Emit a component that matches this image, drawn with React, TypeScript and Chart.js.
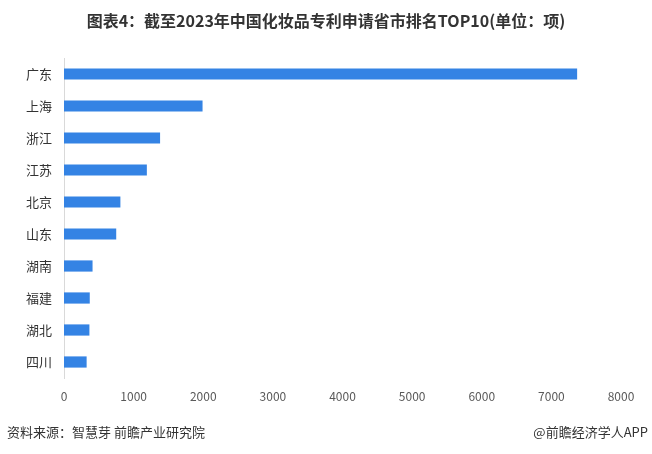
import React, { useEffect, useRef } from "react";
import { Chart, registerables } from "chart.js";

Chart.register(...registerables);

const categories = ["广东", "上海", "浙江", "江苏", "北京", "山东", "湖南", "福建", "湖北", "四川"];
const patentCounts = [7370, 1990, 1380, 1190, 810, 750, 410, 370, 365, 325];
const xTicks = [0, 1000, 2000, 3000, 4000, 5000, 6000, 7000, 8000];
const titleText = "图表4：截至2023年中国化妆品专利申请省市排名TOP10(单位：项)";
const sourceText = "资料来源：智慧芽 前瞻产业研究院";
const creditText = "@前瞻经济学人APP";

const FONT = "'Noto Sans CJK SC', 'Noto Sans', sans-serif";

export default function App() {
  const ref = useRef<HTMLCanvasElement | null>(null);

  useEffect(() => {
    if (!ref.current) return;
    const chart = new Chart(ref.current, {
      type: "bar",
      data: {
        labels: categories,
        datasets: [
          {
            data: patentCounts,
            backgroundColor: "#3483E4",
            borderWidth: 0,
            barPercentage: 0.7,
            categoryPercentage: 0.5,
          },
        ],
      },
      options: {
        indexAxis: "y",
        animation: false,
        responsive: false,
        maintainAspectRatio: false,
        layout: { padding: { left: 0, right: 31, top: 58, bottom: 40 } },
        plugins: {
          legend: { display: false },
          tooltip: { enabled: false },
          title: { display: false },
        },
        scales: {
          x: {
            min: 0,
            max: 8000,
            afterBuildTicks: (axis: any) => {
              axis.ticks = xTicks.map((v) => ({ value: v }));
            },
            afterFit: (axis: any) => {
              axis.height = 36;
            },
            grid: { display: false, drawTicks: false },
            border: { display: false },
            ticks: {
              color: "#595959",
              font: { family: FONT, size: 12 },
              padding: 11,
              maxRotation: 0,
              autoSkip: false,
              callback: (v: any) => String(v),
            },
          },
          y: {
            afterFit: (axis: any) => {
              axis.width = 64;
            },
            grid: { display: false, drawTicks: false },
            border: { display: true, color: "#d9d9d9", width: 1 },
            ticks: {
              color: "#333333",
              font: { family: FONT, size: 13 },
              padding: 12,
            },
          },
        },
      },
    });
    return () => chart.destroy();
  }, []);

  return (
    <div
      style={{
        position: "fixed",
        left: 0,
        top: 0,
        width: 652,
        height: 454,
        background: "#ffffff",
        fontFamily: FONT,
      }}
    >
      <canvas ref={ref} width={652} height={454} style={{ display: "block" }} />
      <div
        style={{
          position: "absolute",
          left: 0,
          top: 10,
          width: 652,
          textAlign: "center",
          fontSize: 16,
          fontWeight: "bold",
          color: "#333333",
          lineHeight: "20px",
          whiteSpace: "nowrap",
        }}
      >
        {titleText}
      </div>
      <div
        style={{
          position: "absolute",
          left: 7,
          top: 423,
          fontSize: 13,
          color: "#333333",
          lineHeight: "18px",
          whiteSpace: "nowrap",
        }}
      >
        {sourceText}
      </div>
      <div
        style={{
          position: "absolute",
          right: 4,
          top: 423,
          fontSize: 13,
          color: "#333333",
          lineHeight: "18px",
          whiteSpace: "nowrap",
        }}
      >
        {creditText}
      </div>
    </div>
  );
}
